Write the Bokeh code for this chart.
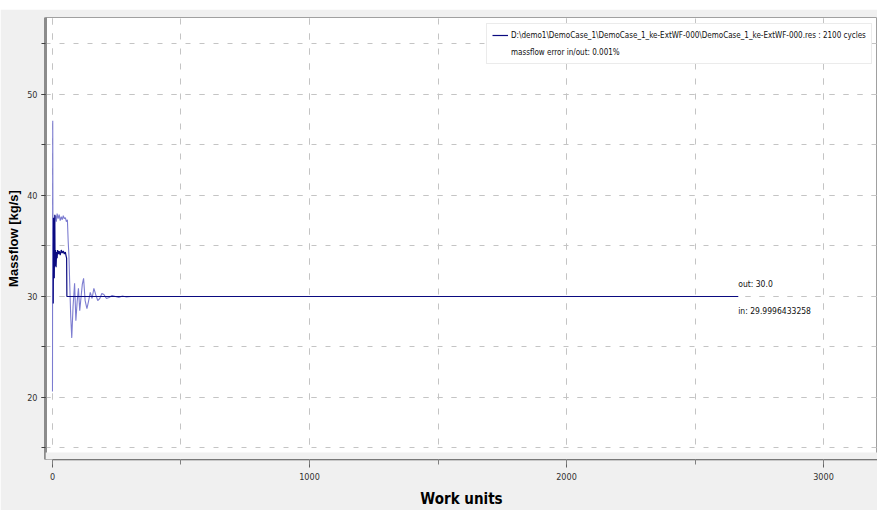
from bokeh.plotting import figure
from bokeh.models import (Range1d, SingleIntervalTicker, Legend, LegendItem, Label,
                          BoxAnnotation)
from bokeh.embed import file_html
from bokeh.resources import INLINE

# ---- data ----
work_in = [0, 1, 2, 3, 5, 7, 9, 12, 15, 18, 22, 26, 30, 34, 38, 42, 46, 50, 54, 58,
           61, 64, 67, 71, 75, 80, 86, 91, 96, 101, 106, 111, 116, 121, 127, 134, 140,
           147, 154, 161, 168, 176, 184, 192, 200, 210, 220, 232, 245, 258, 272, 288,
           305, 2668]
mass_in = [20.6, 47.4, 31.5, 36.0, 33.2, 36.9, 37.6, 38.0, 37.4, 38.2, 37.7, 38.1, 37.5,
           37.9, 37.6, 38.0, 37.7, 37.8, 37.4, 37.6, 35.5, 34.0, 31.3, 28.0, 25.9, 29.0,
           31.3, 27.6, 29.5, 30.8, 28.6, 29.9, 31.2, 31.8, 29.6, 28.8, 29.5, 30.4, 29.8,
           30.8, 30.2, 29.6, 29.8, 30.3, 30.2, 29.8, 29.9, 30.1, 30.0, 29.9, 30.05, 29.95,
           30.0, 30.0]

work_out = [3, 4, 5, 6, 7, 8, 9, 10, 12, 14, 16, 18, 20, 23, 26, 30, 34, 38, 42, 46,
            50, 53, 55, 56, 2668]
mass_out = [29.3, 37.8, 32.5, 36.5, 31.8, 35.0, 38.1, 33.0, 34.6, 32.9, 34.4, 33.8, 34.6,
            34.2, 34.5, 34.1, 34.6, 34.3, 34.5, 34.2, 34.4, 34.0, 33.8, 30.0, 30.0]

legend_label = "D:\\demo1\\DemoCase_1\\DemoCase_1_ke-ExtWF-000\\DemoCase_1_ke-ExtWF-000.res : 2100 cycles"
legend_note = "massflow error in/out: 0.001%"
out_text = "out: 30.0"
in_text = "in: 29.9996433258"
x_title = "Work units"
y_title = "Massflow [kg/s]"

NARROW = "DejaVu Sans Condensed"
GRAY_BG = "#f0f0f0"

p = figure(width=877, height=501, output_backend="svg", toolbar_location=None,
           x_range=Range1d(-27.2, 3210), y_range=Range1d(13.86, 57.62),
           min_border_left=45, min_border_right=0, min_border_top=8, min_border_bottom=51,
           background_fill_color="white", border_fill_color=GRAY_BG,
           outline_line_color="#a0a0a0", outline_line_width=1)
p.styles = {"margin-top": "9px"}

# axes
p.xaxis.ticker = SingleIntervalTicker(interval=1000, num_minor_ticks=2)
p.yaxis.ticker = SingleIntervalTicker(interval=10, num_minor_ticks=2)

p.xaxis.bounds = (0, 3500)
p.xaxis.axis_line_color = "#505050"
p.xaxis.axis_line_width = 1.5
p.xaxis.major_tick_in = 0
p.xaxis.major_tick_out = 8
p.xaxis.minor_tick_in = 0
p.xaxis.minor_tick_out = 5
p.xaxis.major_tick_line_color = "#606060"
p.xaxis.minor_tick_line_color = "#808080"
p.xaxis.major_label_text_font = NARROW
p.xaxis.major_label_text_font_size = "9px"
p.xaxis.major_label_text_color = "#303030"
p.xaxis.major_label_standoff = 5
p.xaxis.axis_label = x_title
p.xaxis.axis_label_text_font = NARROW
p.xaxis.axis_label_text_font_style = "bold"
p.xaxis.axis_label_text_font_size = "15px"
p.xaxis.axis_label_text_color = "black"
p.xaxis.axis_label_standoff = 7

p.yaxis.axis_line_color = "#8c8c8c"
p.yaxis.axis_line_width = 3
p.yaxis.major_tick_in = 0
p.yaxis.major_tick_out = 4
p.yaxis.minor_tick_in = 0
p.yaxis.minor_tick_out = 4
p.yaxis.major_tick_line_color = "#404040"
p.yaxis.minor_tick_line_color = "#404040"
p.yaxis.major_label_text_font = NARROW
p.yaxis.major_label_text_font_size = "9px"
p.yaxis.major_label_text_color = "#303030"
p.yaxis.major_label_standoff = 4
p.yaxis.axis_label = y_title
p.yaxis.axis_label_text_font = "Liberation Sans"
p.yaxis.axis_label_text_font_style = "bold"
p.yaxis.axis_label_text_font_size = "13px"
p.yaxis.axis_label_text_color = "black"
p.yaxis.axis_label_standoff = 3

# grids
for g in (p.xgrid, p.ygrid):
    g.grid_line_color = "#c4c4c4"
    g.minor_grid_line_color = "#c4c4c4"
    g.grid_line_width = 1
    g.minor_grid_line_width = 1
p.xgrid.grid_line_dash = "6 9"
p.xgrid.minor_grid_line_dash = "6 9"
p.ygrid.grid_line_dash = "5 9"
p.ygrid.minor_grid_line_dash = "5 9"

# gap strip between plot area and x axis
p.add_layout(BoxAnnotation(top=14.55, fill_color=GRAY_BG, fill_alpha=1.0,
                           line_color=None))

# data
r_in = p.line(work_in, mass_in, line_color="#7c7cd0", line_width=1.1)
r_out = p.line(work_out, mass_out, line_color="#0a0a80", line_width=1.2)
r_note = p.line([], [], line_alpha=0)

legend = Legend(items=[LegendItem(label=legend_label, renderers=[r_out]),
                       LegendItem(label=legend_note, renderers=[r_note])],
                location=(441, 395))
legend.label_text_font = NARROW
legend.label_text_font_size = "8px"
legend.label_text_color = "#101010"
legend.label_height = 12
legend.glyph_height = 12
legend.glyph_width = 16
legend.label_standoff = 3
legend.spacing = 5
legend.padding = 5
legend.margin = 0
legend.border_line_color = "#d8d8d8"
legend.background_fill_color = "white"
legend.background_fill_alpha = 1.0
p.add_layout(legend)

p.add_layout(Label(x=work_out[-1], y=mass_out[-1], text=out_text, x_offset=0, y_offset=12,
                   text_baseline="middle", text_font=NARROW, text_font_size="8.5px",
                   text_color="#101010"))
p.add_layout(Label(x=work_in[-1], y=mass_in[-1], text=in_text, x_offset=0, y_offset=-15,
                   text_baseline="middle", text_font=NARROW, text_font_size="8.5px",
                   text_color="#101010"))

open("out.html", "w").write(file_html(p, INLINE))
